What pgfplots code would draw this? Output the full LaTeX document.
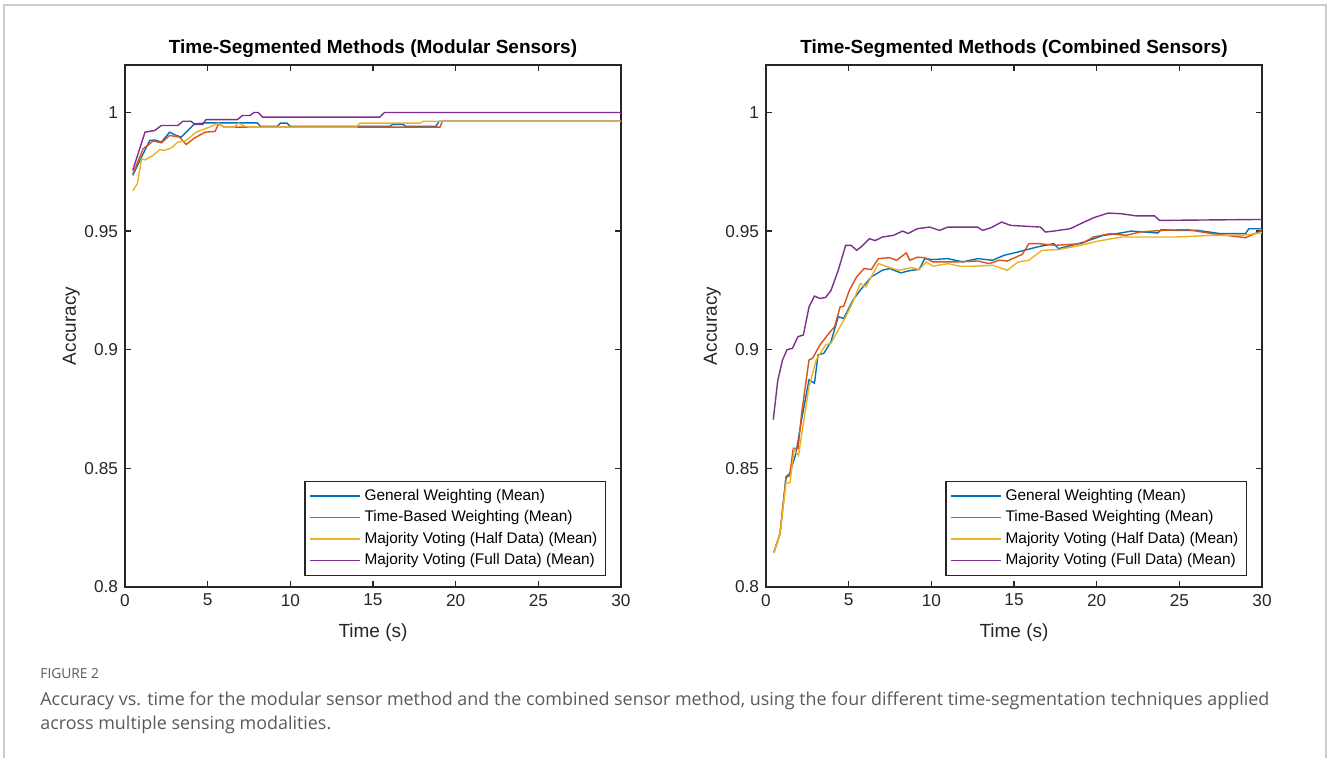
\documentclass[border=0pt]{standalone}
\usepackage{fontspec}
\setmainfont{Liberation Sans}
\newfontfamily\capfont{Open Sans}
\usepackage{pgfplots}
\pgfplotsset{compat=1.18}

\definecolor{mblue}{rgb}{0,0.447,0.741}
\definecolor{mred}{rgb}{0.85,0.325,0.098}
\definecolor{myellow}{rgb}{0.929,0.694,0.125}
\definecolor{mpurple}{rgb}{0.494,0.184,0.556}
\definecolor{axgray}{HTML}{262626}
\definecolor{capgray}{HTML}{5A5A5A}

\pgfplotsset{
  matlab/.style={
    scale only axis, width=248pt, height=261pt,
    xmin=0, xmax=30, ymin=0.8, ymax=1.02,
    xtick={0,5,10,15,20,25,30},
    xticklabels={0,5,10,15,20,25,30},
    ytick={0.8,0.85,0.9,0.95,1},
    yticklabels={0.8,0.85,0.9,0.95,1},
    tick align=inside, major tick length=3pt,
    axis line style={axgray, line width=0.6pt},
    every tick/.style={axgray, line width=0.6pt},
    tick label style={font=\fontsize{8.6}{10}\selectfont, text=axgray},
    label style={font=\fontsize{9.5}{11}\selectfont, text=axgray},
    xlabel style={yshift=-2pt},
    ylabel style={yshift=-4.5pt},
    title style={font=\fontsize{9.5}{11}\selectfont\bfseries, text=black, yshift=-6pt},
    xlabel={Time (s)}, ylabel={Accuracy},
    legend cell align=left,
    legend style={at={(1,0)}, anchor=south east, xshift=-7.5pt, yshift=5.5pt,
      draw=axgray, line width=0.6pt, font=\fontsize{7.7}{9}\selectfont,
      row sep=-0.4pt, inner sep=2pt},
    legend image code/.code={\draw[line width=0.8pt, ##1] (0pt,0pt) -- (25pt,0pt);},
    every axis plot/.append style={line width=0.7pt},
  }
}

\begin{document}
\begin{tikzpicture}
\path[use as bounding box] (0,0) rectangle (664pt,-379pt);
\draw[gray!40, line width=1pt] (2pt,-379pt) -- (2pt,-2.5pt) -- (663pt,-2.5pt) -- (663pt,-379pt);

\begin{axis}[matlab, at={(62.5pt,-293.5pt)}, anchor=south west,
  title={Time-Segmented Methods (Modular Sensors)}]
\addplot[draw=mblue] coordinates {
(0.47,0.9735)(1.0,0.9812)(1.5,0.9882)(1.8,0.9884)(2.2,0.9875)(2.7,0.9917)(3.1,0.9903)
(3.4,0.9896)(3.7,0.9917)(4.2,0.9952)(4.9,0.9956)(8.0,0.9956)(8.2,0.9941)(9.2,0.9941)
(9.4,0.9955)(9.8,0.9955)(10.0,0.9941)(16.0,0.9941)(16.2,0.9950)(16.8,0.9950)(17.0,0.9941)
(18.8,0.9941)(19.0,0.9963)(30,0.9963)};
\addlegendentry{General Weighting (Mean)}
\addplot[draw=mred] coordinates {
(0.47,0.974)(1.1,0.9847)(1.3,0.9857)(1.7,0.988)(2.2,0.9872)(2.7,0.9903)(3.3,0.9896)
(3.7,0.9865)(4.2,0.9892)(4.85,0.9917)(5.45,0.992)(5.65,0.9952)(6.0,0.9938)(19.05,0.9938)
(19.2,0.9963)(30,0.9963)};
\addlegendentry{Time-Based Weighting (Mean)}
\addplot[draw=myellow] coordinates {
(0.47,0.967)(0.75,0.970)(1.0,0.9805)(1.2,0.980)(1.7,0.9819)(2.1,0.9843)(2.4,0.984)
(2.8,0.9851)(3.2,0.9875)(3.7,0.9882)(4.3,0.9917)(5.1,0.9938)(5.65,0.9955)(6.0,0.9938)
(6.6,0.9938)(6.86,0.9955)(7.2,0.9943)(7.5,0.9938)(14.0,0.9938)(14.2,0.9955)(17.85,0.9955)
(18.05,0.9963)(30,0.9963)};
\addlegendentry{Majority Voting (Half Data) (Mean)}
\addplot[draw=mpurple] coordinates {
(0.47,0.9756)(1.21,0.9917)(1.8,0.9924)(2.2,0.9945)(3.2,0.9945)(3.5,0.9963)(4.0,0.9963)
(4.2,0.995)(4.7,0.995)(4.9,0.997)(6.8,0.997)(7.1,0.9987)(7.56,0.9987)(7.8,1.0)(8.05,1.0)
(8.33,0.998)(15.4,0.998)(15.7,1.0)(30,1.0)};
\addlegendentry{Majority Voting (Full Data) (Mean)}
\end{axis}

\begin{axis}[matlab, at={(383pt,-293.5pt)}, anchor=south west,
  title={Time-Segmented Methods (Combined Sensors)}]
\addplot[draw=mblue] coordinates {
(0.48,0.8146)(0.85,0.8226)(1.21,0.8464)(1.45,0.848)(1.82,0.8565)(2.15,0.8705)(2.6,0.8873)
(2.93,0.8859)(3.15,0.8978)(3.5,0.8985)(3.93,0.9034)(4.37,0.9139)(4.7,0.9132)(5.26,0.9209)
(5.7,0.9251)(6.37,0.9307)(7.04,0.9335)(7.48,0.9342)(8.15,0.9324)(8.8,0.9335)(9.26,0.9338)
(9.6,0.9384)(10.1,0.938)(11.0,0.9384)(11.9,0.937)(12.8,0.9384)(13.7,0.9377)(14.4,0.9398)
(15.25,0.9412)(16.4,0.9433)(17.4,0.9447)(17.7,0.9426)(19.25,0.9454)(20.4,0.9482)(21.2,0.9489)
(22.1,0.95)(23.7,0.9492)(23.9,0.9506)(24.8,0.9503)(26.1,0.9503)(27.5,0.9489)(29.0,0.9489)
(29.2,0.951)(30,0.951)};
\addlegendentry{General Weighting (Mean)}
\addplot[draw=mred] coordinates {
(0.48,0.8146)(0.85,0.8226)(1.21,0.846)(1.43,0.847)(1.65,0.8584)(1.94,0.8584)(2.15,0.873)
(2.6,0.8957)(2.82,0.8964)(3.26,0.902)(3.8,0.9069)(4.15,0.9097)(4.48,0.918)(4.7,0.9183)
(5.04,0.925)(5.48,0.9307)(5.93,0.9342)(6.37,0.9338)(6.8,0.9384)(7.48,0.9388)(7.9,0.9377)
(8.48,0.9408)(8.7,0.9377)(9.15,0.939)(9.6,0.9388)(10.1,0.937)(11.5,0.937)(12.8,0.9374)
(13.5,0.9363)(14.1,0.9377)(14.6,0.9374)(15.5,0.9402)(15.9,0.9447)(16.5,0.9447)(17.5,0.944)
(19.1,0.9447)(19.8,0.9475)(20.8,0.9489)(21.8,0.9482)(22.6,0.9496)(23.9,0.9503)(25.5,0.9506)
(27.0,0.9489)(29.0,0.9472)(30,0.9503)};
\addlegendentry{Time-Based Weighting (Mean)}
\addplot[draw=myellow] coordinates {
(0.48,0.8146)(0.85,0.8226)(1.21,0.8437)(1.45,0.844)(1.7,0.858)(1.97,0.8555)(2.26,0.869)
(2.6,0.8845)(3.04,0.8957)(3.6,0.902)(3.93,0.9027)(4.37,0.9083)(4.82,0.9139)(5.26,0.9202)
(5.7,0.9279)(6.04,0.9265)(6.8,0.9363)(7.48,0.9346)(8.04,0.9335)(8.8,0.9346)(9.26,0.9338)
(9.7,0.937)(10.1,0.9352)(11.0,0.9363)(11.7,0.9352)(12.6,0.9352)(13.7,0.9356)(14.6,0.9335)
(15.25,0.937)(15.9,0.9377)(16.7,0.9419)(17.7,0.9422)(19.0,0.944)(20.1,0.9458)(21.5,0.9475)
(22.6,0.9475)(24.8,0.9475)(27.0,0.9482)(28.8,0.9482)(30,0.9493)};
\addlegendentry{Majority Voting (Half Data) (Mean)}
\addplot[draw=mpurple] coordinates {
(0.44,0.8705)(0.71,0.887)(1.0,0.8957)(1.27,0.9)(1.6,0.9006)(1.93,0.9055)(2.26,0.9062)
(2.6,0.918)(2.93,0.9226)(3.26,0.9216)(3.6,0.922)(3.93,0.925)(4.37,0.9335)(4.82,0.944)
(5.15,0.944)(5.48,0.9419)(5.8,0.9436)(6.26,0.9468)(6.6,0.946)(7.04,0.9475)(7.7,0.9482)
(8.26,0.95)(8.6,0.949)(9.15,0.951)(9.9,0.9517)(10.5,0.9503)(11.0,0.9517)(12.8,0.9517)
(13.1,0.9503)(13.6,0.9514)(14.25,0.9538)(14.8,0.9524)(16.6,0.9517)(16.9,0.9496)(17.4,0.95)
(18.4,0.951)(19.0,0.953)(19.8,0.9556)(20.7,0.9576)(21.5,0.9573)(22.4,0.9564)(23.5,0.9564)
(23.8,0.9545)(30,0.9549)};
\addlegendentry{Majority Voting (Full Data) (Mean)}
\end{axis}

\node[anchor=west, inner sep=0pt, text=capgray, font=\capfont\fontsize{6.9}{8}\selectfont]
  at (20pt,-337pt) {FIGURE 2};
\node[anchor=north west, inner sep=0pt, text=capgray, align=left,
  font=\capfont\fontsize{8.95}{12}\selectfont] at (20pt,-345.5pt)
  {Accuracy vs. time for the modular sensor method and the combined sensor method, using the four different time-segmentation techniques applied\\
   across multiple sensing modalities.};
\end{tikzpicture}
\end{document}
